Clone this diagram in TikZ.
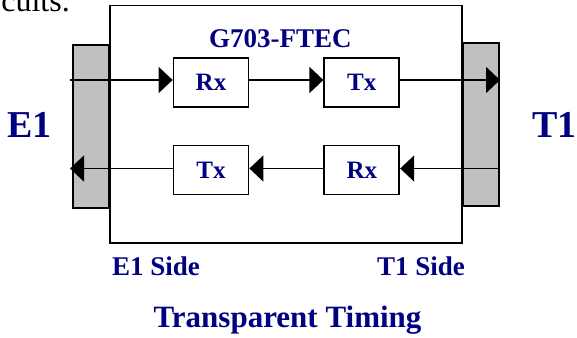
\documentclass[tikz,border=0pt]{standalone}
\usepackage{fontspec}
\setmainfont{Liberation Serif}
\usetikzlibrary{arrows.meta}
\definecolor{navy}{HTML}{000080}
\definecolor{bargray}{HTML}{C0C0C0}
\begin{document}
\begin{tikzpicture}[x=1pt,y=-1pt,
  unit/.style={draw=black, fill=white, line width=1.8pt, minimum width=75pt, minimum height=49pt, inner sep=0pt, text=navy, font=\bfseries\fontsize{25}{25}\selectfont},
  bar/.style={draw=black, fill=bargray, line width=1.8pt, minimum width=36.6pt, minimum height=163pt, inner sep=0pt},
  frame/.style={draw=black, line width=1.8pt, inner sep=0pt},
  lbl/.style={text=navy, font=\bfseries\fontsize{27}{27}\selectfont, inner sep=0pt, anchor=base west},
  big/.style={text=navy, font=\bfseries\fontsize{38}{38}\selectfont, inner sep=0pt, anchor=base west},
  sig/.style={-{Triangle[length=14pt,width=26pt]}, line width=1.8pt}]
\useasboundingbox (0,0) rectangle (577,337);
% cropped line of text at the top
\node[anchor=base east, inner sep=0pt, font=\fontsize{32}{32}\selectfont] (cut) at (70,12) {circuits.};
% main frame
\node[frame, minimum width=352pt, minimum height=237.5pt] (box) at (286,124.25) {};
% side bars
\node[bar] (barL) at (91,126.6) {};
\node[bar] (barR) at (481,124.5) {};
% units
\node[unit] (rxA) at (211,82.3) {Rx};
\node[unit] (txA) at (361.8,82.3) {Tx};
\node[unit] (txB) at (211,170) {Tx};
\node[unit] (rxB) at (361.8,170) {Rx};
% line ends
\coordinate (inL) at (70,80);
\coordinate (outR) at (500,80);
\coordinate (inR) at (500,168.5);
\coordinate (outL) at (70,168.5);
% top path
\draw[sig] (inL) -- (inL -| rxA.west);
\draw[sig] (inL -| rxA.east) -- (inL -| txA.west);
\draw[sig] (inL -| txA.east) -- (outR);
% bottom path
\draw[sig] (inR) -- (inR -| rxB.east);
\draw[sig] (inR -| rxB.west) -- (inR -| txB.east);
\draw[sig] (inR -| txB.west) -- (outL);
% labels
\node[lbl] (title) at (209,48) {G703-FTEC};
\node[big] (e1) at (7,137) {E1};
\node[big] (t1) at (532,137) {T1};
\node[lbl] (e1side) at (112,275) {E1 Side};
\node[lbl] (t1side) at (377,275) {T1 Side};
\node[text=navy, font=\bfseries\fontsize{31}{31}\selectfont, inner sep=0pt, anchor=base] (timing) at (287.5,327) {Transparent Timing};
\end{tikzpicture}
\end{document}
